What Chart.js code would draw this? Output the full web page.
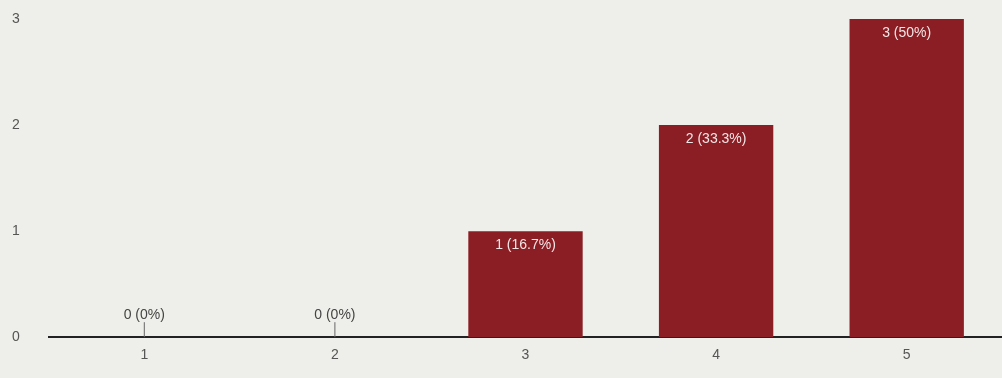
<!DOCTYPE html>
<html>
<head>
<meta charset="utf-8">
<script src="https://cdn.jsdelivr.net/npm/chart.js@4/dist/chart.umd.min.js"></script>
<style>
  html, body { margin: 0; padding: 0; background: #eeeeea; }
  #wrap { width: 1002px; height: 378px; position: relative; }
</style>
</head>
<body>
<div id="wrap"><canvas id="myChart"></canvas></div>
<script>
const categories = ["1", "2", "3", "4", "5"];
const counts = [0, 0, 1, 2, 3];
const percentLabels = ["0%", "0%", "16.7%", "33.3%", "50%"];
const yTicks = [0, 1, 2, 3];

const barColor = "#8a1e24";

// labels on top of the bars, and the small stub for zero values
const barLabels = {
  id: "barLabels",
  afterDatasetsDraw(chart) {
    const ctx = chart.ctx;
    const meta = chart.getDatasetMeta(0);
    const yScale = chart.scales.y;
    ctx.save();
    ctx.font = "14px 'Liberation Sans', Arial, sans-serif";
    ctx.textAlign = "center";
    meta.data.forEach((bar, i) => {
      const text = counts[i] + " (" + percentLabels[i] + ")";
      if (counts[i] === 0) {
        const base = yScale.getPixelForValue(0);
        ctx.strokeStyle = "#666";
        ctx.lineWidth = 1;
        ctx.beginPath();
        ctx.moveTo(bar.x, base);
        ctx.lineTo(bar.x, base - 15);
        ctx.stroke();
        ctx.fillStyle = "#444";
        ctx.textBaseline = "bottom";
        ctx.fillText(text, bar.x, base - 15);
      } else {
        ctx.fillStyle = "#f3e6e6";
        ctx.textBaseline = "top";
        ctx.fillText(text, bar.x, bar.y + 7);
      }
    });
    ctx.restore();
  },
};

new Chart(document.getElementById("myChart"), {
  type: "bar",
  data: {
    labels: categories,
    datasets: [
      {
        data: counts,
        backgroundColor: barColor,
        borderWidth: 0,
        barPercentage: 0.6,
        categoryPercentage: 1,
      },
    ],
  },
  options: {
    responsive: true,
    maintainAspectRatio: false,
    animation: false,
    layout: { padding: { left: 12, right: 0, top: 19, bottom: 4 } },
    plugins: { legend: { display: false }, tooltip: { enabled: false } },
    scales: {
      x: {
        grid: { display: false, drawTicks: false },
        border: { display: true, color: "#222", width: 2 },
        ticks: {
          color: "#555",
          font: { size: 14, family: "'Liberation Sans', Arial, sans-serif" },
          padding: 10,
        },
      },
      y: {
        min: 0,
        max: 3,
        afterBuildTicks: (axis) => {
          axis.ticks = yTicks.map((v) => ({ value: v }));
        },
        afterFit: (axis) => {
          axis.width = 37;
        },
        grid: { display: false, drawTicks: false },
        border: { display: false },
        ticks: {
          color: "#555",
          crossAlign: "far",
          font: { size: 14, family: "'Liberation Sans', Arial, sans-serif" },
        },
      },
    },
  },
  plugins: [barLabels],
});
</script>
</body>
</html>
